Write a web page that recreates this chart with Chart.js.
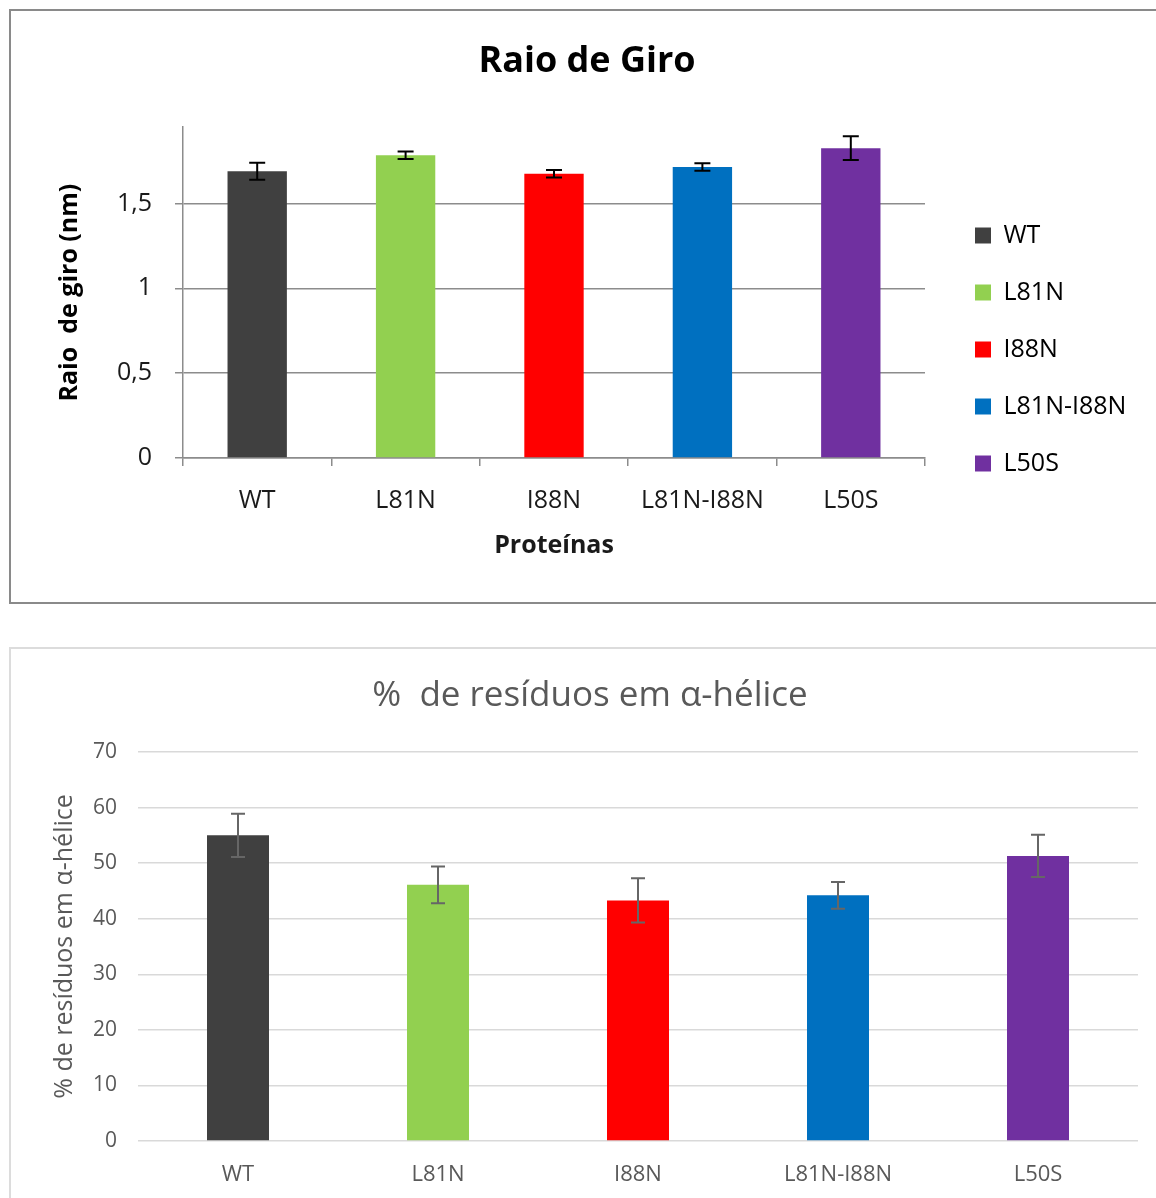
<!DOCTYPE html>
<html>
<head>
<meta charset="utf-8">
<script src="https://cdn.jsdelivr.net/npm/chart.js@4.4.1/dist/chart.umd.min.js"></script>
<style>
  body { margin: 0; background: #fff; overflow: hidden; width: 1156px; height: 1198px; position: relative; }
  .box { position: absolute; box-sizing: border-box; }
  #box1 { left: 9px; top: 9px; width: 1170px; height: 595px; border: 2px solid #8a8a8a; }
  #box2 { left: 9px; top: 647px; width: 1170px; height: 600px; border: 2px solid #dcdcdc; }
  canvas { position: absolute; }
  #raio { left: 11px; top: 11px; }
  #helice { left: 11px; top: 649px; }
</style>
</head>
<body>
<div class="box" id="box1"></div>
<div class="box" id="box2"></div>
<canvas id="raio" width="1152" height="591"></canvas>
<canvas id="helice" width="1158" height="549"></canvas>
<script>
const categories = ['WT', 'L81N', 'I88N', 'L81N-I88N', 'L50S'];
const colors = ['#404040', '#92D050', '#FF0000', '#0070C0', '#7030A0'];

// Raio de giro (nm)
const raioValues = [1.69, 1.785, 1.676, 1.716, 1.826];
const raioErrors = [0.05, 0.022, 0.022, 0.022, 0.07];
const raioTicks = [0, 0.5, 1, 1.5];

// % de resíduos em alfa-hélice
const heliceValues = [55.0, 46.1, 43.3, 44.2, 51.3];
const heliceErrors = [3.9, 3.3, 4.0, 2.4, 3.8];
const heliceTicks = [0, 10, 20, 30, 40, 50, 60, 70];

Chart.defaults.font.family = "'Open Sans', sans-serif";

function errorBars(errors, color, cap) {
  return {
    id: 'errorBars',
    afterDatasetsDraw(chart) {
      const meta = chart.getDatasetMeta(0);
      const y = chart.scales.y;
      const vals = chart.data.datasets[0].data;
      const ctx = chart.ctx;
      ctx.save();
      ctx.strokeStyle = color;
      ctx.lineWidth = 2;
      meta.data.forEach((bar, i) => {
        const hi = y.getPixelForValue(vals[i] + errors[i]);
        const lo = y.getPixelForValue(vals[i] - errors[i]);
        ctx.beginPath();
        ctx.moveTo(bar.x, hi); ctx.lineTo(bar.x, lo);
        ctx.moveTo(bar.x - cap, hi); ctx.lineTo(bar.x + cap, hi);
        ctx.moveTo(bar.x - cap, lo); ctx.lineTo(bar.x + cap, lo);
        ctx.stroke();
      });
      ctx.restore();
    }
  };
}

// legenda: reserva largura fixa à direita e desloca os itens como no original
const legendNudge = {
  id: 'legendNudge',
  beforeLayout(chart) {
    const lg = chart.legend;
    if (lg && !lg._fixed) {
      const fit = lg.fit.bind(lg);
      lg.fit = function () { fit(); this.width = 238; };
      lg._fixed = true;
    }
  },
  afterLayout(chart) {
    const lg = chart.legend;
    const dx = 964 - 32 - lg.left;
    const dy = 43;
    lg.left += dx; lg.right += dx;
    lg.top += dy; lg.bottom += dy;
  }
};

const gray = '#8c8c8c';

new Chart(document.getElementById('raio'), {
  type: 'bar',
  data: {
    labels: categories,
    datasets: [{
      data: raioValues,
      backgroundColor: colors,
      barPercentage: 0.4,
      categoryPercentage: 1
    }]
  },
  options: {
    responsive: false,
    animation: false,
    layout: { padding: 0 },
    plugins: {
      title: {
        display: true,
        text: 'Raio de Giro',
        color: '#000',
        font: { size: 36, weight: 'bold' },
        padding: { top: 29, bottom: 44 }
      },
      legend: {
        position: 'right',
        labels: {
          boxWidth: 16,
          boxHeight: 16,
          padding: 32,
          color: '#1a1a1a',
          font: { size: 25 },
          generateLabels: () => categories.map((c, i) => ({
            text: c, fillStyle: colors[i], strokeStyle: colors[i],
            lineWidth: 0, hidden: false, index: i
          }))
        }
      },
      tooltip: { enabled: false }
    },
    scales: {
      x: {
        grid: { drawOnChartArea: false, drawTicks: true, tickLength: 8, color: gray, lineWidth: 1.5, offset: true },
        border: { color: gray, width: 1.5 },
        ticks: { color: '#1a1a1a', font: { size: 25 }, padding: 20 },
        title: { display: true, text: 'Proteínas', color: '#1a1a1a', font: { size: 25, weight: 'bold' }, padding: { top: 0, bottom: 41 } },
        afterFit: s => { s.height = 144; }
      },
      y: {
        min: 0,
        max: 1.95,
        afterBuildTicks: s => { s.ticks = raioTicks.map(v => ({ value: v })); },
        grid: { color: gray, lineWidth: 1.5, tickLength: 8 },
        border: { color: gray, width: 1.5 },
        ticks: { color: '#1a1a1a', font: { size: 25 }, padding: 23, callback: v => String(v).replace('.', ',') },
        title: { display: true, text: 'Raio  de giro (nm)', color: '#000', font: { size: 25, weight: 'bold' }, padding: { top: 44, bottom: 0 } },
        afterFit: s => { s.width = 172; }
      }
    }
  },
  plugins: [errorBars(raioErrors, '#000', 8), legendNudge]
});

const textGray = '#595959';
const gridGray = '#d9d9d9';

new Chart(document.getElementById('helice'), {
  type: 'bar',
  data: {
    labels: categories,
    datasets: [{
      data: heliceValues,
      backgroundColor: colors,
      barPercentage: 0.31,
      categoryPercentage: 1
    }]
  },
  options: {
    responsive: false,
    animation: false,
    layout: { padding: 0 },
    plugins: {
      title: {
        display: true,
        text: '%  de resíduos em α-hélice',
        color: textGray,
        font: { size: 35, weight: 'normal' },
        padding: { top: 26, bottom: 35 }
      },
      legend: { display: false },
      tooltip: { enabled: false }
    },
    scales: {
      x: {
        grid: { display: false },
        border: { display: false },
        ticks: { color: textGray, font: { size: 22 }, padding: 13 },
        afterFit: s => { s.height = 57; }
      },
      y: {
        min: 0,
        max: 70,
        afterBuildTicks: s => { s.ticks = heliceTicks.map(v => ({ value: v })); },
        grid: { color: gridGray, lineWidth: 1.5, drawTicks: false },
        border: { display: false },
        ticks: { color: textGray, font: { size: 21 }, padding: 21 },
        title: { display: true, text: '% de resíduos em α-hélice', color: textGray, font: { size: 25 }, padding: { top: 39, bottom: 0 } },
        afterFit: s => { s.width = 127; }
      },
      // espaço vazio à direita da área do gráfico
      yRight: {
        position: 'right',
        display: true,
        grid: { display: false },
        border: { display: false },
        ticks: { display: false },
        afterFit: s => { s.width = 31; }
      }
    }
  },
  plugins: [errorBars(heliceErrors, '#666', 7)]
});
</script>
</body>
</html>
